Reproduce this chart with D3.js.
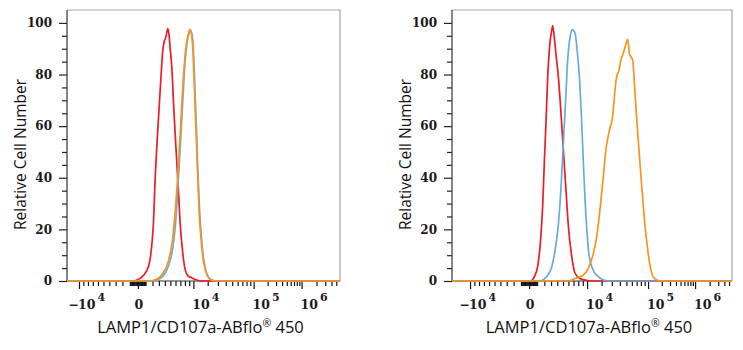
<!DOCTYPE html>
<html><head><meta charset="utf-8">
<script src="https://cdn.jsdelivr.net/npm/d3@7"></script>
<style>body{margin:0;background:#fff}</style>
</head><body>
<svg id="chart" width="743" height="350"></svg>
<script>
// ---------- data ----------
const yMajorTicks = [0, 20, 40, 60, 80, 100];
const yMinorTicks = [5, 10, 15, 25, 30, 35, 45, 50, 55, 65, 70, 75, 85, 90, 95];
const xMajorTicks = [-1e4, 0, 1e4, 1e5, 1e6];
const xLabelSign = ["−", "", "", "", ""];
const xLabelBase = ["10", "0", "10", "10", "10"];
const xLabelExp = ["4", "", "4", "5", "6"];
const xMinorTicks = [
  -9000, -8000, -7000, -6000, -5000, -4000, -3000, -2000,
  -1000, -900, -800, -700, -600, -500, -400, -300, -200, -100,
  100, 200, 300, 400, 500, 600, 700, 800, 900, 1000,
  2000, 3000, 4000, 5000, 6000, 7000, 8000, 9000,
  2e4, 3e4, 4e4, 5e4, 6e4, 7e4, 8e4, 9e4,
  2e5, 3e5, 4e5, 5e5, 6e5, 7e5, 8e5, 9e5,
  2e6, 3e6, 4e6, 5e6
];
// channel (0-1024 across the display) of the major decades, per panel
const leftAnchorChannels = [45, 266, 474, 700, 880];
const rightAnchorChannels = [66, 282, 494, 717, 889];

const xTitle = "LAMP1/CD107a-ABflo";
const xTitleMark = "®";
const xTitleEnd = " 450";
const yTitle = "Relative Cell Number";

// histograms: [channel, relative count]
const leftRed = [[0,0],[248,0],[274,1],[299,4],[311,8],[319,15],[324,22],[330,38],[339,56],[349,73],[359,89],[364,92.5],[371,94.5],[378,97.8],[383,95],[387,90],[393,83],[401,66],[409,51],[418,35],[424,23],[434,11],[443,4.5],[454,2],[469,1.2],[487,0.4],[499,0],[1024,0]];
const leftBlue = [[0,0],[319,0],[349,1],[368,3],[381,6],[392,10],[401,16],[410,26],[418,40],[427,56],[436,73],[443,85],[450,92],[458,96],[464,97],[469,95.5],[475,88],[480,74],[486,58],[491,42],[497,28],[505,16],[512,9],[521,4],[531,1.5],[546,0.3],[563,0],[1024,0]];
const leftOrange = [[0,0],[311,0],[341,1],[360,3],[375,6],[386,10],[396,16],[405,26],[415,40],[424,56],[433,73],[441,85],[448,92],[456,96],[461,97.5],[467,95.5],[473,88],[478,74],[484,58],[490,42],[495,28],[503,16],[510,9],[520,4],[529,1.5],[544,0.3],[559,0],[1024,0]];

const rightRed = [[0,0],[287,0],[301,1.7],[313,5.5],[323,14.6],[332,30],[338,47],[344,62],[350,79],[358,92],[366,97.8],[368,99],[374,94.6],[380,88],[389,79],[398,66],[407,51],[417,35],[425,22],[438,9.4],[450,3],[468,1],[493,0.2],[517,0],[1024,0]];
const rightBlue = [[0,0],[322,0],[346,1.7],[365,5.5],[377,12],[389,22],[398,35],[407,53],[416,71],[423,85.5],[432,94.6],[440,97.4],[450,96],[458,89],[466,79],[474,62],[480,47],[486,32.6],[493,20],[502,9.4],[517,4],[535,1.7],[566,0.1],[590,0],[1024,0]];
const rightOrange = [[0,0],[425,0],[450,1],[480,2.3],[499,5],[517,10.7],[529,17],[541,27.5],[553,40],[563,51],[572,56.5],[578,59.5],[585,62],[590,66.5],[596,74],[602,79],[611,81.7],[617,85.5],[624,87.5],[633,90.7],[643,93.6],[649,88],[655,86.8],[661,85.5],[668,75],[676,62],[685,49],[694,36.5],[704,23.6],[716,12],[728,4],[740,1],[758,0.1],[775,0],[1024,0]];

const colors = {red: "#ec1c24", blue: "#6aaad8", orange: "#f7941d"};

// ---------- drawing ----------
const svg = d3.select("#chart");
const tickFont = "DejaVu Serif";
const titleFont = "Open Sans";

function panel(opts) {
  const {left, right, top, bottom, anchors, series} = opts;
  const g = svg.append("g");
  const ch = d3.scaleLinear().domain([0, 1024]).range([left, right]);
  const xv = d3.scaleSymlog().constant(1e4).domain(xMajorTicks).range(anchors.map(ch));
  const y = d3.scaleLinear().domain([0, 105]).range([bottom, top]);

  // frame (top/right gray)
  g.append("path")
    .attr("d", `M${left},${top}H${right}V${bottom}`)
    .attr("fill", "none").attr("stroke", "#a6a6a6").attr("stroke-width", 1.2);

  // y axis
  const ya = g.append("g").attr("transform", `translate(${left},0)`);
  ya.append("g").call(d3.axisLeft(y).tickValues(yMinorTicks).tickSize(5).tickFormat("").tickSizeOuter(0));
  ya.append("g").call(d3.axisLeft(y).tickValues(yMajorTicks).tickSize(8).tickPadding(7).tickSizeOuter(0));
  ya.selectAll(".domain").remove();
  ya.selectAll("g").attr("font-family", null).attr("font-size", null);
  ya.selectAll("line").attr("stroke", "#222").attr("stroke-width", 1.2);
  ya.selectAll("text").style("font-family", tickFont).style("font-size", "12px")
    .style("font-weight", "bold").attr("fill", "#1a1a1a");
  g.append("line").attr("x1", left).attr("x2", left).attr("y1", top).attr("y2", bottom)
    .attr("stroke", "#333").attr("stroke-width", 1.2);

  // x axis
  const xa = g.append("g").attr("transform", `translate(0,${bottom})`);
  xa.append("g").call(d3.axisBottom(xv).tickValues(xMinorTicks).tickSize(5).tickFormat("").tickSizeOuter(0));
  xa.append("g").call(d3.axisBottom(xv).tickValues(xMajorTicks).tickSize(8).tickFormat("").tickSizeOuter(0));
  xa.selectAll(".domain").remove();
  xa.selectAll("line").attr("stroke", "#111").attr("stroke-width", 1.2);
  g.append("line").attr("x1", left).attr("x2", right).attr("y1", bottom).attr("y2", bottom)
    .attr("stroke", "#333").attr("stroke-width", 1.2);

  // x tick labels
  const lab = g.append("g").style("font-family", tickFont).style("font-weight", "bold").attr("fill", "#1a1a1a");
  xMajorTicks.forEach((v, i) => {
    const px = xv(v);
    if (xLabelExp[i] === "") {
      lab.append("text").attr("x", px + 1).attr("y", bottom + 28).attr("text-anchor", "middle")
        .style("font-size", "12.5px").text(xLabelBase[i]);
    } else {
      if (xLabelSign[i]) {
        lab.append("text").attr("x", px).attr("y", bottom + 28).attr("text-anchor", "end")
          .style("font-size", "12.5px").text(xLabelSign[i]);
      }
      const t = lab.append("text").attr("x", px - 1).attr("y", bottom + 28).style("font-size", "12.5px");
      t.append("tspan").text(xLabelBase[i]);
      t.append("tspan").style("font-size", "11px").attr("dy", -8).attr("dx", 2).text(xLabelExp[i]);
    }
  });

  // titles
  const xt = g.append("text").attr("x", (left + right) / 2 - 3).attr("y", bottom + 52)
    .attr("text-anchor", "middle").style("font-family", titleFont).style("font-size", "16.5px").attr("fill", "#111");
  xt.append("tspan").text(xTitle);
  xt.append("tspan").style("font-size", "10.5px").attr("dy", -6).text(xTitleMark);
  xt.append("tspan").attr("dy", 6).text(xTitleEnd);

  g.append("text").attr("transform", `translate(${left - 41},${(top + bottom) / 2 + 9}) rotate(-90)`)
    .attr("text-anchor", "middle").style("font-family", titleFont).style("font-size", "15.5px").attr("fill", "#111")
    .text(yTitle);

  // curves
  const line = d3.line().x(d => ch(d[0])).y(d => y(d[1])).curve(d3.curveMonotoneX);
  series.forEach(s => {
    g.append("path").datum(s.data).attr("d", line).attr("fill", "none")
      .attr("stroke", s.color).attr("stroke-width", 1.7).attr("stroke-linejoin", "round");
  });
}

panel({left: 67, right: 340, top: 10, bottom: 281, anchors: leftAnchorChannels,
  series: [{data: leftRed, color: colors.red}, {data: leftBlue, color: colors.blue}, {data: leftOrange, color: colors.orange}]});
panel({left: 452, right: 732, top: 10, bottom: 281, anchors: rightAnchorChannels,
  series: [{data: rightRed, color: colors.red}, {data: rightBlue, color: colors.blue}, {data: rightOrange, color: colors.orange}]});
</script>
</body></html>
